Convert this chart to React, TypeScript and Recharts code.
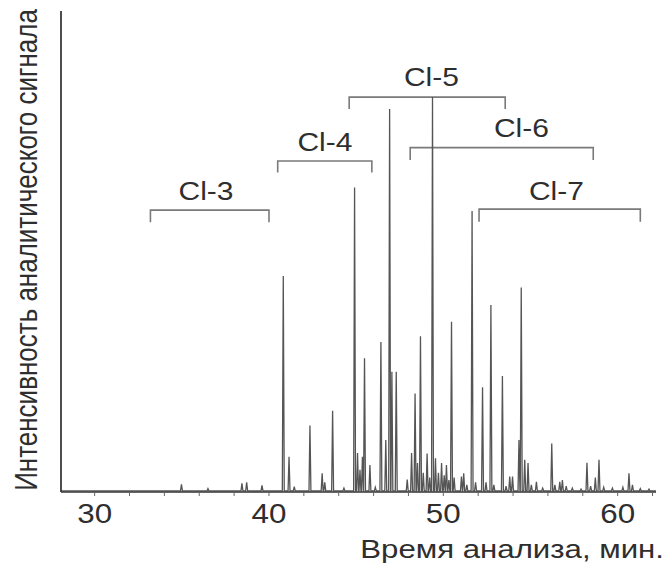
import React from 'react';
import { LineChart, Line, XAxis, YAxis, ReferenceArea, ReferenceDot, Label } from 'recharts';

// ---- chromatogram peaks (retention time, min ; relative intensity) ----
const peakTimes = [
  34.98, 36.5, 38.45, 38.72, 39.6,
  40.82, 41.15, 41.45, 42.35, 43.05, 43.2, 43.65, 44.3,
  44.91, 45.08, 45.22, 45.36, 45.48, 45.79, 46.1, 46.42, 46.7, 46.92, 47.05, 47.3,
  47.93, 48.18, 48.38, 48.52, 48.69, 48.85, 49.07, 49.22, 49.38, 49.55, 49.72, 49.9,
  50.05, 50.18, 50.32, 50.47, 50.62, 51.04, 51.17, 51.35, 51.65, 51.85, 52.25, 52.45,
  52.73, 52.9, 53.39, 53.6, 53.81, 53.97, 54.34, 54.47, 54.67, 54.86, 55.05, 55.34,
  55.7, 56.22, 56.4, 56.68, 56.83, 57.05, 57.4, 57.9, 58.24, 58.45, 58.72, 58.93,
  59.2, 59.7, 60.3, 60.65, 60.85, 61.3, 61.8,
];
const peakHeights = [
  1.6, 0.7, 1.8, 2.0, 1.4,
  44.9, 7.3, 1.1, 13.8, 3.9, 2.0, 16.9, 0.8,
  63.3, 8.1, 4.6, 7.3, 27.8, 5.6, 1.0, 31.2, 10.8, 79.6, 25, 25,
  2.6, 8.1, 20.5, 6, 32.4, 4, 8, 3, 82.1, 7, 4, 6,
  3.5, 5.6, 2.5, 35.4, 3, 3.2, 3.9, 1.5, 58.4, 2, 21.8, 2,
  38.9, 1.5, 24.1, 1.2, 3.2, 3.2, 10.8, 42.5, 6.7, 6.0, 1.5, 2.1,
  0.8, 10.1, 1.5, 2.1, 2.5, 1.2, 0.8, 0.6, 6.1, 1.2, 3.0, 6.7,
  1.0, 0.8, 1.0, 3.9, 1.5, 0.7, 0.6,
];
const baselineLevel = 0.25;

// ---- homologue group brackets ----
const bracketNames = ['Cl-3', 'Cl-4', 'Cl-5', 'Cl-6', 'Cl-7'];
const bracketStart = [33.2, 40.5, 44.6, 48.1, 52.05];
const bracketEnd = [40.0, 45.9, 53.55, 58.6, 61.3];
const bracketTop = [58.6, 68.8, 82.1, 71.6, 58.8];
const bracketFoot = [56.1, 66.4, 79.6, 69.0, 56.2];
const labelTime = [36.39, 43.21, 49.32, 54.48, 56.49];
const labelLevel = [62.6, 72.8, 86.2, 75.6, 62.6];

// ---- axes ----
const xDomain = [28.07, 62.2];
const xTicks = [30, 32, 34, 36, 38, 40, 42, 44, 46, 48, 50, 52, 54, 56, 58, 60, 62];
const xLabelEvery = 10;
const xTitle = 'Время анализа, мин.';
const yTitle = 'Интенсивность аналитического сигнала';

const FONT = '"Liberation Sans", Arial, Helvetica, sans-serif';
const TEXT = '#2e2e2e';
const HALF = 0.055;

const data: { t: number; v: number }[] = [{ t: xDomain[0], v: baselineLevel }];
peakTimes.forEach((t, i) => {
  data.push({ t: t - HALF, v: baselineLevel });
  data.push({ t, v: peakHeights[i] });
  data.push({ t: t + HALF, v: baselineLevel });
});
data.push({ t: xDomain[1], v: baselineLevel });

const XTick = (props: any) => {
  const { x, y, payload } = props;
  if (payload.value % xLabelEvery !== 0) return <g />;
  return (
    <text
      transform={`translate(${x},${y + 27}) scale(1.12,1)`}
      textAnchor="middle"
      fontFamily={FONT}
      fontSize={28}
      fill={TEXT}
    >
      {payload.value}
    </text>
  );
};

const XTitle = () => (
  <text
    transform={`translate(664,558) scale(1.2,1)`}
    textAnchor="end"
    fontFamily={FONT}
    fontSize={26}
    fill={TEXT}
  >
    {xTitle}
  </text>
);

const YTitle = () => (
  <text
    transform={`translate(36.5,250) scale(1.2,1) rotate(-90)`}
    textAnchor="middle"
    fontFamily={FONT}
    fontSize={26}
    fill={TEXT}
  >
    {yTitle}
  </text>
);

const Bracket = (props: any) => {
  const { x, y, width, height } = props;
  return (
    <path
      d={`M${x},${y + height} L${x},${y} L${x + width},${y} L${x + width},${y + height}`}
      fill="none"
      stroke="#7a7a7a"
      strokeWidth={1.6}
    />
  );
};

const makeGroupLabel = (name: string) => (props: any) => {
  const vb = props.viewBox || {};
  const cx = vb.x + (vb.width || 0) / 2;
  const cy = vb.y + (vb.height || 0) / 2;
  const size = 25;
  return (
    <text
      transform={`translate(${cx},${cy + size * 0.358}) scale(1.2,1)`}
      textAnchor="middle"
      fontFamily={FONT}
      fontSize={size}
      fill={TEXT}
    >
      {name}
    </text>
  );
};

export default function App() {
  return (
    <div style={{ position: 'absolute', left: 0, top: 0, background: '#fff' }}>
      <LineChart
        width={668}
        height={565}
        data={data}
        margin={{ top: 11, right: 12, bottom: 0, left: 0 }}
      >
        <XAxis
          dataKey="t"
          type="number"
          domain={xDomain}
          allowDataOverflow
          ticks={xTicks}
          tick={<XTick />}
          tickSize={4}
          tickMargin={0}
          height={73}
          axisLine={{ stroke: '#333', strokeWidth: 1.6 }}
          tickLine={{ stroke: '#666', strokeWidth: 1 }}
          interval={0}
        >
          <Label content={<XTitle />} />
        </XAxis>
        <YAxis
          type="number"
          domain={[0, 100]}
          allowDataOverflow
          width={61}
          tick={false}
          tickLine={false}
          axisLine={{ stroke: '#3a3a3a', strokeWidth: 1.8 }}
        >
          <Label content={<YTitle />} />
        </YAxis>
        {bracketNames.map((name, i) => (
          <ReferenceArea
            key={'b' + name}
            x1={bracketStart[i]}
            x2={bracketEnd[i]}
            y1={bracketFoot[i]}
            y2={bracketTop[i]}
            shape={<Bracket />}
          />
        ))}
        <Line
          type="linear"
          dataKey="v"
          stroke="#555555"
          strokeWidth={1.3}
          dot={false}
          activeDot={false}
          isAnimationActive={false}
        />
        {bracketNames.map((name, i) => (
          <ReferenceDot
            key={'l' + name}
            x={labelTime[i]}
            y={labelLevel[i]}
            r={0}
            fill="none"
            stroke="none"
            label={makeGroupLabel(name)}
          />
        ))}
      </LineChart>
    </div>
  );
}
